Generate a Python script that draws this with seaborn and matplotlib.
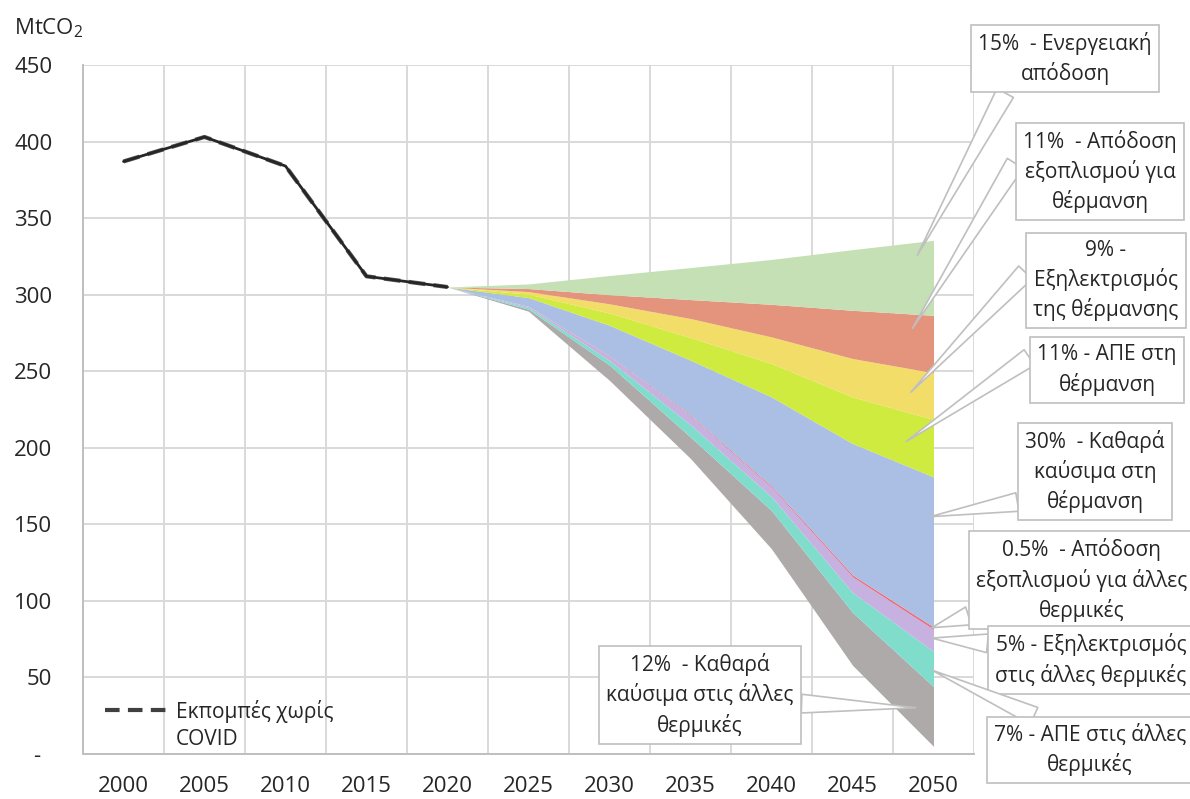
import numpy as np
import pandas as pd
import matplotlib
matplotlib.use("Agg")
import matplotlib.pyplot as plt
from matplotlib.lines import Line2D
import seaborn as sns

# ιστορικές εκπομπές (MtCO2)
hist_years = [2000, 2005, 2010, 2015, 2020]
hist_emissions = [387, 403, 384, 312, 305]

# σενάριο 2020-2050, στρώματα από κάτω προς τα πάνω
proj_years = [2020, 2025, 2030, 2035, 2040, 2045, 2050]
remaining = [305, 289.2, 244, 193, 134, 58, 5]
clean_fuels_other = [0, 1.3, 10, 14, 25, 34.5, 39]
res_other = [0, 1.1, 3, 8, 9, 13, 23]
elec_other = [0, 0.75, 2.7, 5.8, 6.2, 10.3, 14.4]
equip_eff_other = [0, 0.05, 0.3, 0.5, 0.8, 1.2, 1.6]
clean_fuels_heat = [0, 5.7, 20, 35.9, 58.2, 85.8, 98]
res_heat = [0, 2.2, 8, 14.8, 21.8, 30.4, 37.5]
elec_heat = [0, 1.7, 6, 12.4, 17.4, 25.1, 30.5]
equip_eff_heat = [0, 2, 6, 12.4, 21.3, 31.5, 37.5]
energy_eff = [0, 3, 12.5, 20.9, 29.3, 39.6, 49]

x_ticks = [2000, 2005, 2010, 2015, 2020, 2025, 2030, 2035, 2040, 2045, 2050]
y_ticks = [0, 50, 100, 150, 200, 250, 300, 350, 400, 450]
y_tick_labels = ['-  ', '50', '100', '150', '200', '250', '300', '350', '400', '450']

callout_texts = [
    '15%  - Ενεργειακή\nαπόδοση',
    '11%  - Απόδοση\nεξοπλισμού για\nθέρμανση',
    '9% -\nΕξηλεκτρισμός\nτης θέρμανσης',
    '11% - ΑΠΕ στη\nθέρμανση',
    '30%  - Καθαρά\nκαύσιμα στη\nθέρμανση',
    '0.5%  - Απόδοση\nεξοπλισμού για άλλες\nθερμικές',
    '5% - Εξηλεκτρισμός\nστις άλλες θερμικές',
    '7% - ΑΠΕ στις άλλες\nθερμικές',
    '12%  - Καθαρά\nκαύσιμα στις άλλες\nθερμικές',
]

# layout των callouts: άκρη (data), κέντρο κουτιού (pixels από πάνω-αριστερά),
# και σημείο του κουτιού από όπου ξεκινά η σφήνα
W, H = 1190, 799
callout_tips = [(2049.0, 325.7), (2048.7, 278), (2048.6, 236.3), (2048.3, 204),
                (2049.8, 155), (2049.9, 82.5), (2049.9, 75.7), (2049.9, 54.8),
                (2048.9, 30.2)]
callout_boxes = [(1065, 58.5), (1100, 171.5), (1106, 280.5), (1107, 370),
                 (1095, 471.5), (1082, 580), (1091, 660), (1090, 750), (700, 695)]
callout_relpos = [(0.18, 0.0), (0.0, 0.75), (0.0, 0.7), (0.0, 0.85),
                  (0.0, 0.15), (0.0, 0.1), (0.0, 0.8), (0.3, 1.0), (1.0, 0.4)]

sns.set_theme(style="white")
plt.rcParams['font.family'] = ['Open Sans', 'DejaVu Sans']
plt.rcParams['mathtext.fontset'] = 'custom'
plt.rcParams['mathtext.rm'] = 'Open Sans'
plt.rcParams['text.color'] = '#262626'

fig = plt.figure(figsize=(W / 100, H / 100), dpi=100)
ax = fig.add_axes([83 / W, 1 - 754 / H, (974 - 83) / W, (754 - 65) / H])

layers = [remaining, clean_fuels_other, res_other, elec_other, equip_eff_other,
          clean_fuels_heat, res_heat, elec_heat, equip_eff_heat, energy_eff]
colors = ['none', '#aeaaaa', '#80ddcc', '#c6b1e0', '#ea6f7e', '#aabfe3',
          '#cfeb40', '#f2dd68', '#e4937d', '#c5e0b4']
ax.stackplot(proj_years, *layers, colors=colors, linewidth=0, zorder=2)

hist = pd.DataFrame({'year': hist_years, 'value': hist_emissions})
sns.lineplot(data=hist, x='year', y='value', ax=ax, color='#595959', lw=3,
             linestyle=(0, (4, 2)), zorder=3)
sns.lineplot(data=hist, x='year', y='value', ax=ax, color='#262626', lw=2, zorder=4)

ax.set_xlim(1997.5, 2052.5)
ax.set_ylim(0, 450)
ax.set_xticks(x_ticks)
ax.set_xticklabels([str(y) for y in x_ticks])
ax.set_xticks(np.arange(1997.5, 2053, 5), minor=True)
ax.set_yticks(y_ticks)
ax.set_yticklabels(y_tick_labels)
ax.set_xlabel('')
ax.set_ylabel('')
ax.set_axisbelow(True)
ax.grid(axis='y', which='major', color='#d9d9d9', lw=1.4)
ax.grid(axis='x', which='minor', color='#d9d9d9', lw=1.4)
ax.grid(axis='x', which='major', visible=False)
ax.tick_params(which='both', length=0)
ax.tick_params(axis='y', pad=22, labelsize=16, labelcolor='#262626')
ax.tick_params(axis='x', pad=16, labelsize=16, labelcolor='#262626')
for s in ['top', 'right']:
    ax.spines[s].set_visible(False)
for s in ['left', 'bottom']:
    ax.spines[s].set_color('#bfbfbf')
    ax.spines[s].set_linewidth(1.4)

fig.text(14 / W, 1 - 28 / H, 'MtCO$_2$', fontsize=16, va='center', ha='left')

h1 = Line2D([], [], color='#404040', lw=3, linestyle=(0, (3.5, 2)))
h2 = Line2D([], [], lw=0)
ax.legend([h1, h2], ['Εκπομπές χωρίς', 'COVID'], loc='lower left',
          bbox_to_anchor=(22 / 891, 4 / 689), frameon=False, fontsize=15,
          handlelength=3.0, handletextpad=0.4, labelspacing=0.3,
          borderpad=0, borderaxespad=0)

for text, tip, (cx, cy), rp in zip(callout_texts, callout_tips, callout_boxes, callout_relpos):
    ax.annotate(text, xy=tip, xycoords='data',
                xytext=(cx / W, 1 - cy / H), textcoords='figure fraction',
                ha='center', va='center', fontsize=15, linespacing=1.4,
                bbox=dict(boxstyle='square,pad=0.35', fc='white', ec='#bfbfbf', lw=1.2),
                arrowprops=dict(arrowstyle='wedge,tail_width=0.9,shrink_factor=0.5',
                                fc='white', ec='#bfbfbf', lw=1.2, relpos=rp,
                                shrinkA=0, shrinkB=0),
                annotation_clip=False, zorder=6)

fig.savefig('out.png', dpi=100)
